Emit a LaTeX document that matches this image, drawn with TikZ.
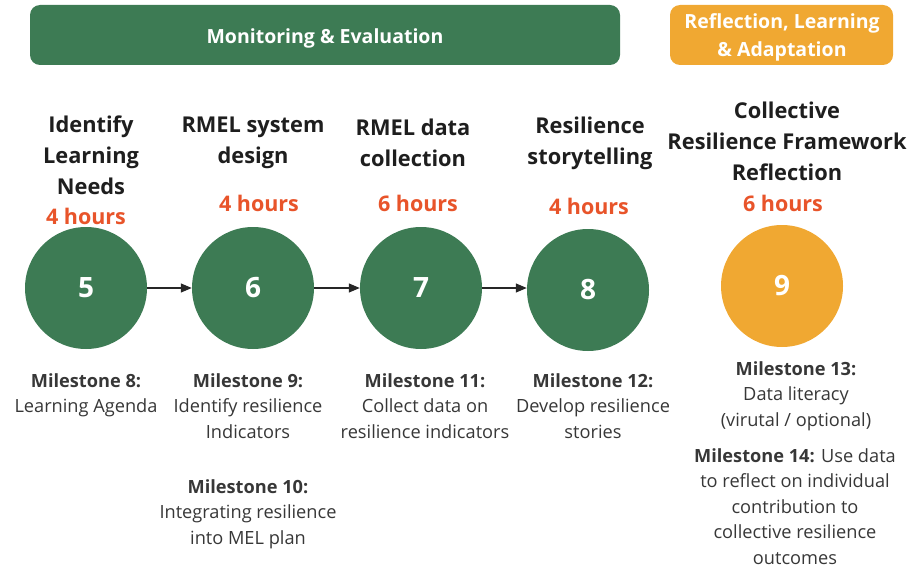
\documentclass[tikz,border=0pt]{standalone}
\usepackage{fontspec}
\setmainfont{Open Sans}
\usetikzlibrary{arrows.meta}
\definecolor{mgreen}{RGB}{61,123,84}
\definecolor{morange}{RGB}{240,168,50}
\definecolor{mred}{RGB}{232,84,42}
\definecolor{mtext}{RGB}{30,30,30}
\definecolor{mgray}{RGB}{55,55,55}
\tikzset{
  bar/.style={rounded corners=10pt, inner sep=0pt, text=white, font=\fontsize{19.5}{28}\selectfont\bfseries, align=center},
  stepcircle/.style={circle, minimum size=122pt, inner sep=0pt, text=white, font=\fontsize{28}{30}\selectfont\bfseries},
  title/.style={align=center, text=mtext, font=\fontsize{21.8}{31}\selectfont\bfseries},
  hours/.style={text=mred, font=\fontsize{21.5}{26}\selectfont\bfseries},
  mile/.style={align=center, text=mgray, font=\fontsize{18.2}{25.6}\selectfont, inner sep=1pt},
  flow/.style={-{Triangle[length=11pt,width=9pt]}, line width=1.2pt, black!85},
}
\begin{document}
\begin{tikzpicture}[x=1pt,y=-1pt]
\useasboundingbox (0,0) rectangle (923,567);
% header bars
\fill[mgreen, rounded corners=10pt] (30,5) rectangle (620,65);
\node[bar] (me) at (325,38) {Monitoring \& Evaluation};
\fill[morange, rounded corners=10pt] (670,5) rectangle (893,65);
\node[bar] (rla) at (782,37) {Reflection, Learning\\\& Adaptation};
% titles
\node[title] (t5) at (91,155) {Identify\\Learning\\Needs};
\node[hours] (h5) at (86,216) {4 hours};
\node[title] (t6) at (253,143) {RMEL system\\design};
\node[hours] (h6) at (259,203) {4 hours};
\node[title] (t7) at (413,143) {RMEL data\\collection};
\node[hours] (h7) at (418,203) {6 hours};
\node[title] (t8) at (590,143) {Resilience\\storytelling};
\node[hours] (h8) at (589,206) {4 hours};
\node[title] (t9) at (787,141) {Collective\\Resilience Framework\\Reflection};
\node[hours] (h9) at (783,203) {6 hours};
% circles
\node[stepcircle, fill=mgreen] (c5) at (86,288) {5};
\node[stepcircle, fill=mgreen] (c6) at (253,288) {6};
\node[stepcircle, fill=mgreen] (c7) at (421,288) {7};
\node[stepcircle, fill=mgreen] (c8) at (588,290) {8};
\node[stepcircle, fill=morange] (c9) at (782,286) {9};
\draw[flow] (c5) -- (c6);
\draw[flow] (c6) -- (c7);
\draw[flow] (c7.east) -- (c7.east -| c8.west);
% milestones
\node[mile, anchor=north] (m8) at (86,372) {\textbf{Milestone 8:}\\Learning Agenda};
\node[mile, anchor=north] (m9) at (248,372) {\textbf{Milestone 9:}\\Identify resilience\\Indicators};
\node[mile, anchor=north] (m10) at (248,478) {\textbf{Milestone 10:}\\Integrating resilience\\into MEL plan};
\node[mile, anchor=north] (m11) at (425,372) {\textbf{Milestone 11:}\\Collect data on\\resilience indicators};
\node[mile, anchor=north] (m12) at (593,372) {\textbf{Milestone 12:}\\Develop resilience\\stories};
\node[mile, anchor=north] (m13) at (796,360) {\textbf{Milestone 13:}\\Data literacy\\(virutal / optional)};
\node[mile, anchor=north] (m14) at (795,447) {\textbf{Milestone 14:} Use data\\to reflect on individual\\contribution to\\collective resilience\\outcomes};
\end{tikzpicture}
\end{document}
